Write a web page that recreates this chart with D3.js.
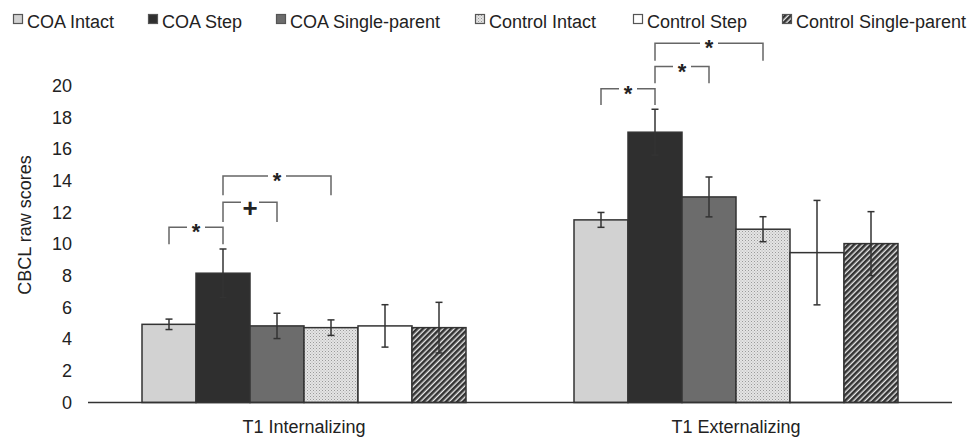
<!DOCTYPE html>
<html>
<head>
<meta charset="utf-8">
<script src="https://cdn.jsdelivr.net/npm/d3@7"></script>
<style>
  body { margin: 0; background: #fff; }
  text { font-family: "Liberation Sans", Arial, sans-serif; fill: #222; }
</style>
</head>
<body>
<div id="chart"></div>
<script>
var groups = ['T1 Internalizing', 'T1 Externalizing']
var series = ['COA Intact', 'COA Step', 'COA Single-parent', 'Control Intact', 'Control Step', 'Control Single-parent']
var internalizing = [4.94, 8.17, 4.84, 4.73, 4.84, 4.73]
var internalizingErr = [0.33, 1.53, 0.80, 0.49, 1.34, 1.60]
var externalizing = [11.54, 17.08, 12.99, 10.95, 9.47, 10.04]
var externalizingErr = [0.47, 1.45, 1.26, 0.79, 3.30, 2.02]
var yTicks = [0, 2, 4, 6, 8, 10, 12, 14, 16, 18, 20]
// significance brackets: group, from bar, to bar, level, drop to, mark
var brackets = [
  [0, 0, 1, 11.07, 10.0, '*'],
  [0, 1, 2, 12.65, 11.4, '+'],
  [0, 1, 3, 14.32, 13.1, '*'],
  [1, 0, 1, 19.82, 18.8, '*'],
  [1, 1, 2, 21.23, 20.18, '*'],
  [1, 1, 3, 22.70, 21.6, '*']
]

var fills = ['#d2d2d2', '#2f2f2f', '#6c6c6c', 'url(#dots)', '#ffffff', 'url(#hatch)']

var w = 973
  , h = 439

var svg = d3.select('#chart').append('svg').attr('width', w).attr('height', h)

var defs = svg.append('defs')
var dots = defs.append('pattern').attr('id', 'dots')
  .attr('patternUnits', 'userSpaceOnUse').attr('width', 3).attr('height', 3)
dots.append('rect').attr('width', 3).attr('height', 3).attr('fill', '#e4e4e4')
dots.append('rect').attr('width', 1).attr('height', 1).attr('fill', '#9a9a9a')
dots.append('rect').attr('x', 1.5).attr('y', 1.5).attr('width', 1).attr('height', 1).attr('fill', '#b0b0b0')

var hatch = defs.append('pattern').attr('id', 'hatch')
  .attr('patternUnits', 'userSpaceOnUse').attr('width', 4).attr('height', 4)
  .attr('patternTransform', 'rotate(45)')
hatch.append('rect').attr('width', 4).attr('height', 4).attr('fill', '#e8e8e8')
hatch.append('rect').attr('width', 2.6).attr('height', 4).attr('fill', '#333')

var x0 = d3.scaleBand().domain(groups).range([88, 952])
var x1 = d3.scaleBand().domain(series).range([0, x0.bandwidth()]).paddingOuter(1)
var y = d3.scaleLinear().domain([0, 20]).range([402.5, 86])

var data = groups.map(function (g, gi) {
  var v = gi ? externalizing : internalizing
    , e = gi ? externalizingErr : internalizingErr
  return series.map(function (s, i) {
    return { group: g, series: s, i: i, value: v[i], err: e[i] }
  })
})

function cx(gi, i) {
  return x0(groups[gi]) + x1(series[i]) + x1.bandwidth() / 2
}

// y tick labels
svg.append('g').selectAll('text').data(yTicks)
  .enter().append('text')
  .attr('x', 72)
  .attr('y', function (d) { return y(d) + 6 })
  .attr('text-anchor', 'end')
  .style('font-size', '18px')
  .text(function (d) { return d })

svg.append('text')
  .attr('transform', 'translate(31,225) rotate(-90)')
  .attr('text-anchor', 'middle')
  .style('font-size', '18px')
  .text('CBCL raw scores')

// bars
var g = svg.selectAll('g.grp').data(data)
  .enter().append('g').attr('class', 'grp')
  .attr('transform', function (d) { return 'translate(' + x0(d[0].group) + ',0)' })

g.selectAll('rect').data(function (d) { return d })
  .enter().append('rect')
  .attr('x', function (d) { return x1(d.series) })
  .attr('y', function (d) { return y(d.value) })
  .attr('width', x1.bandwidth())
  .attr('height', function (d) { return y(0) - y(d.value) })
  .attr('fill', function (d) { return fills[d.i] })
  .attr('stroke', '#333')
  .attr('stroke-width', 1.5)

// error bars
var eb = g.selectAll('g.err').data(function (d) { return d })
  .enter().append('g').attr('class', 'err')
  .attr('transform', function (d) { return 'translate(' + (x1(d.series) + x1.bandwidth() / 2) + ',0)' })
  .attr('stroke', '#333').attr('stroke-width', 1.5)
eb.append('line')
  .attr('y1', function (d) { return y(d.value + d.err) })
  .attr('y2', function (d) { return y(d.value - d.err) })
eb.append('line').attr('x1', -3.5).attr('x2', 3.5)
  .attr('y1', function (d) { return y(d.value + d.err) })
  .attr('y2', function (d) { return y(d.value + d.err) })
eb.append('line').attr('x1', -3.5).attr('x2', 3.5)
  .attr('y1', function (d) { return y(d.value - d.err) })
  .attr('y2', function (d) { return y(d.value - d.err) })

// baseline
svg.append('line')
  .attr('x1', 88).attr('x2', 952)
  .attr('y1', y(0)).attr('y2', y(0))
  .attr('stroke', '#333').attr('stroke-width', 1.5)

// group labels
svg.append('g').selectAll('text').data(groups)
  .enter().append('text')
  .attr('x', function (d) { return x0(d) + x0.bandwidth() / 2 })
  .attr('y', 433)
  .attr('text-anchor', 'middle')
  .style('font-size', '18px')
  .text(function (d) { return d })

// significance brackets
var br = svg.append('g').selectAll('g').data(brackets)
  .enter().append('g')
br.append('path')
  .attr('fill', 'none').attr('stroke', '#666').attr('stroke-width', 1.5)
  .attr('d', function (d) {
    var a = cx(d[0], d[1]), b = cx(d[0], d[2])
    return 'M' + a + ',' + y(d[4]) + 'V' + y(d[3]) + 'H' + b + 'V' + y(d[4])
  })
br.append('rect')
  .attr('fill', '#fff')
  .attr('x', function (d) { return (cx(d[0], d[1]) + cx(d[0], d[2])) / 2 - 9 })
  .attr('y', function (d) { return y(d[3]) - 3 })
  .attr('width', 18).attr('height', 6)
br.append('text')
  .attr('x', function (d) { return (cx(d[0], d[1]) + cx(d[0], d[2])) / 2 })
  .attr('y', function (d) { return y(d[3]) + (d[5] == '+' ? 15 : 12) })
  .attr('text-anchor', 'middle')
  .style('font-size', function (d) { return d[5] == '+' ? '26px' : '22px' })
  .style('font-weight', 'bold')
  .text(function (d) { return d[5] })

// legend
var legX = [13, 148, 276, 475, 633, 782]
var leg = svg.append('g').selectAll('g').data(series)
  .enter().append('g')
  .attr('transform', function (d, i) { return 'translate(' + legX[i] + ',0)' })
leg.append('rect')
  .attr('x', 0.5).attr('y', 14.5).attr('width', 9).attr('height', 9)
  .attr('fill', function (d, i) { return fills[i] })
  .attr('stroke', '#555').attr('stroke-width', 1.2)
leg.append('text')
  .attr('x', 14).attr('y', 28)
  .style('font-size', '18px')
  .text(function (d) { return d })
</script>
</body>
</html>
